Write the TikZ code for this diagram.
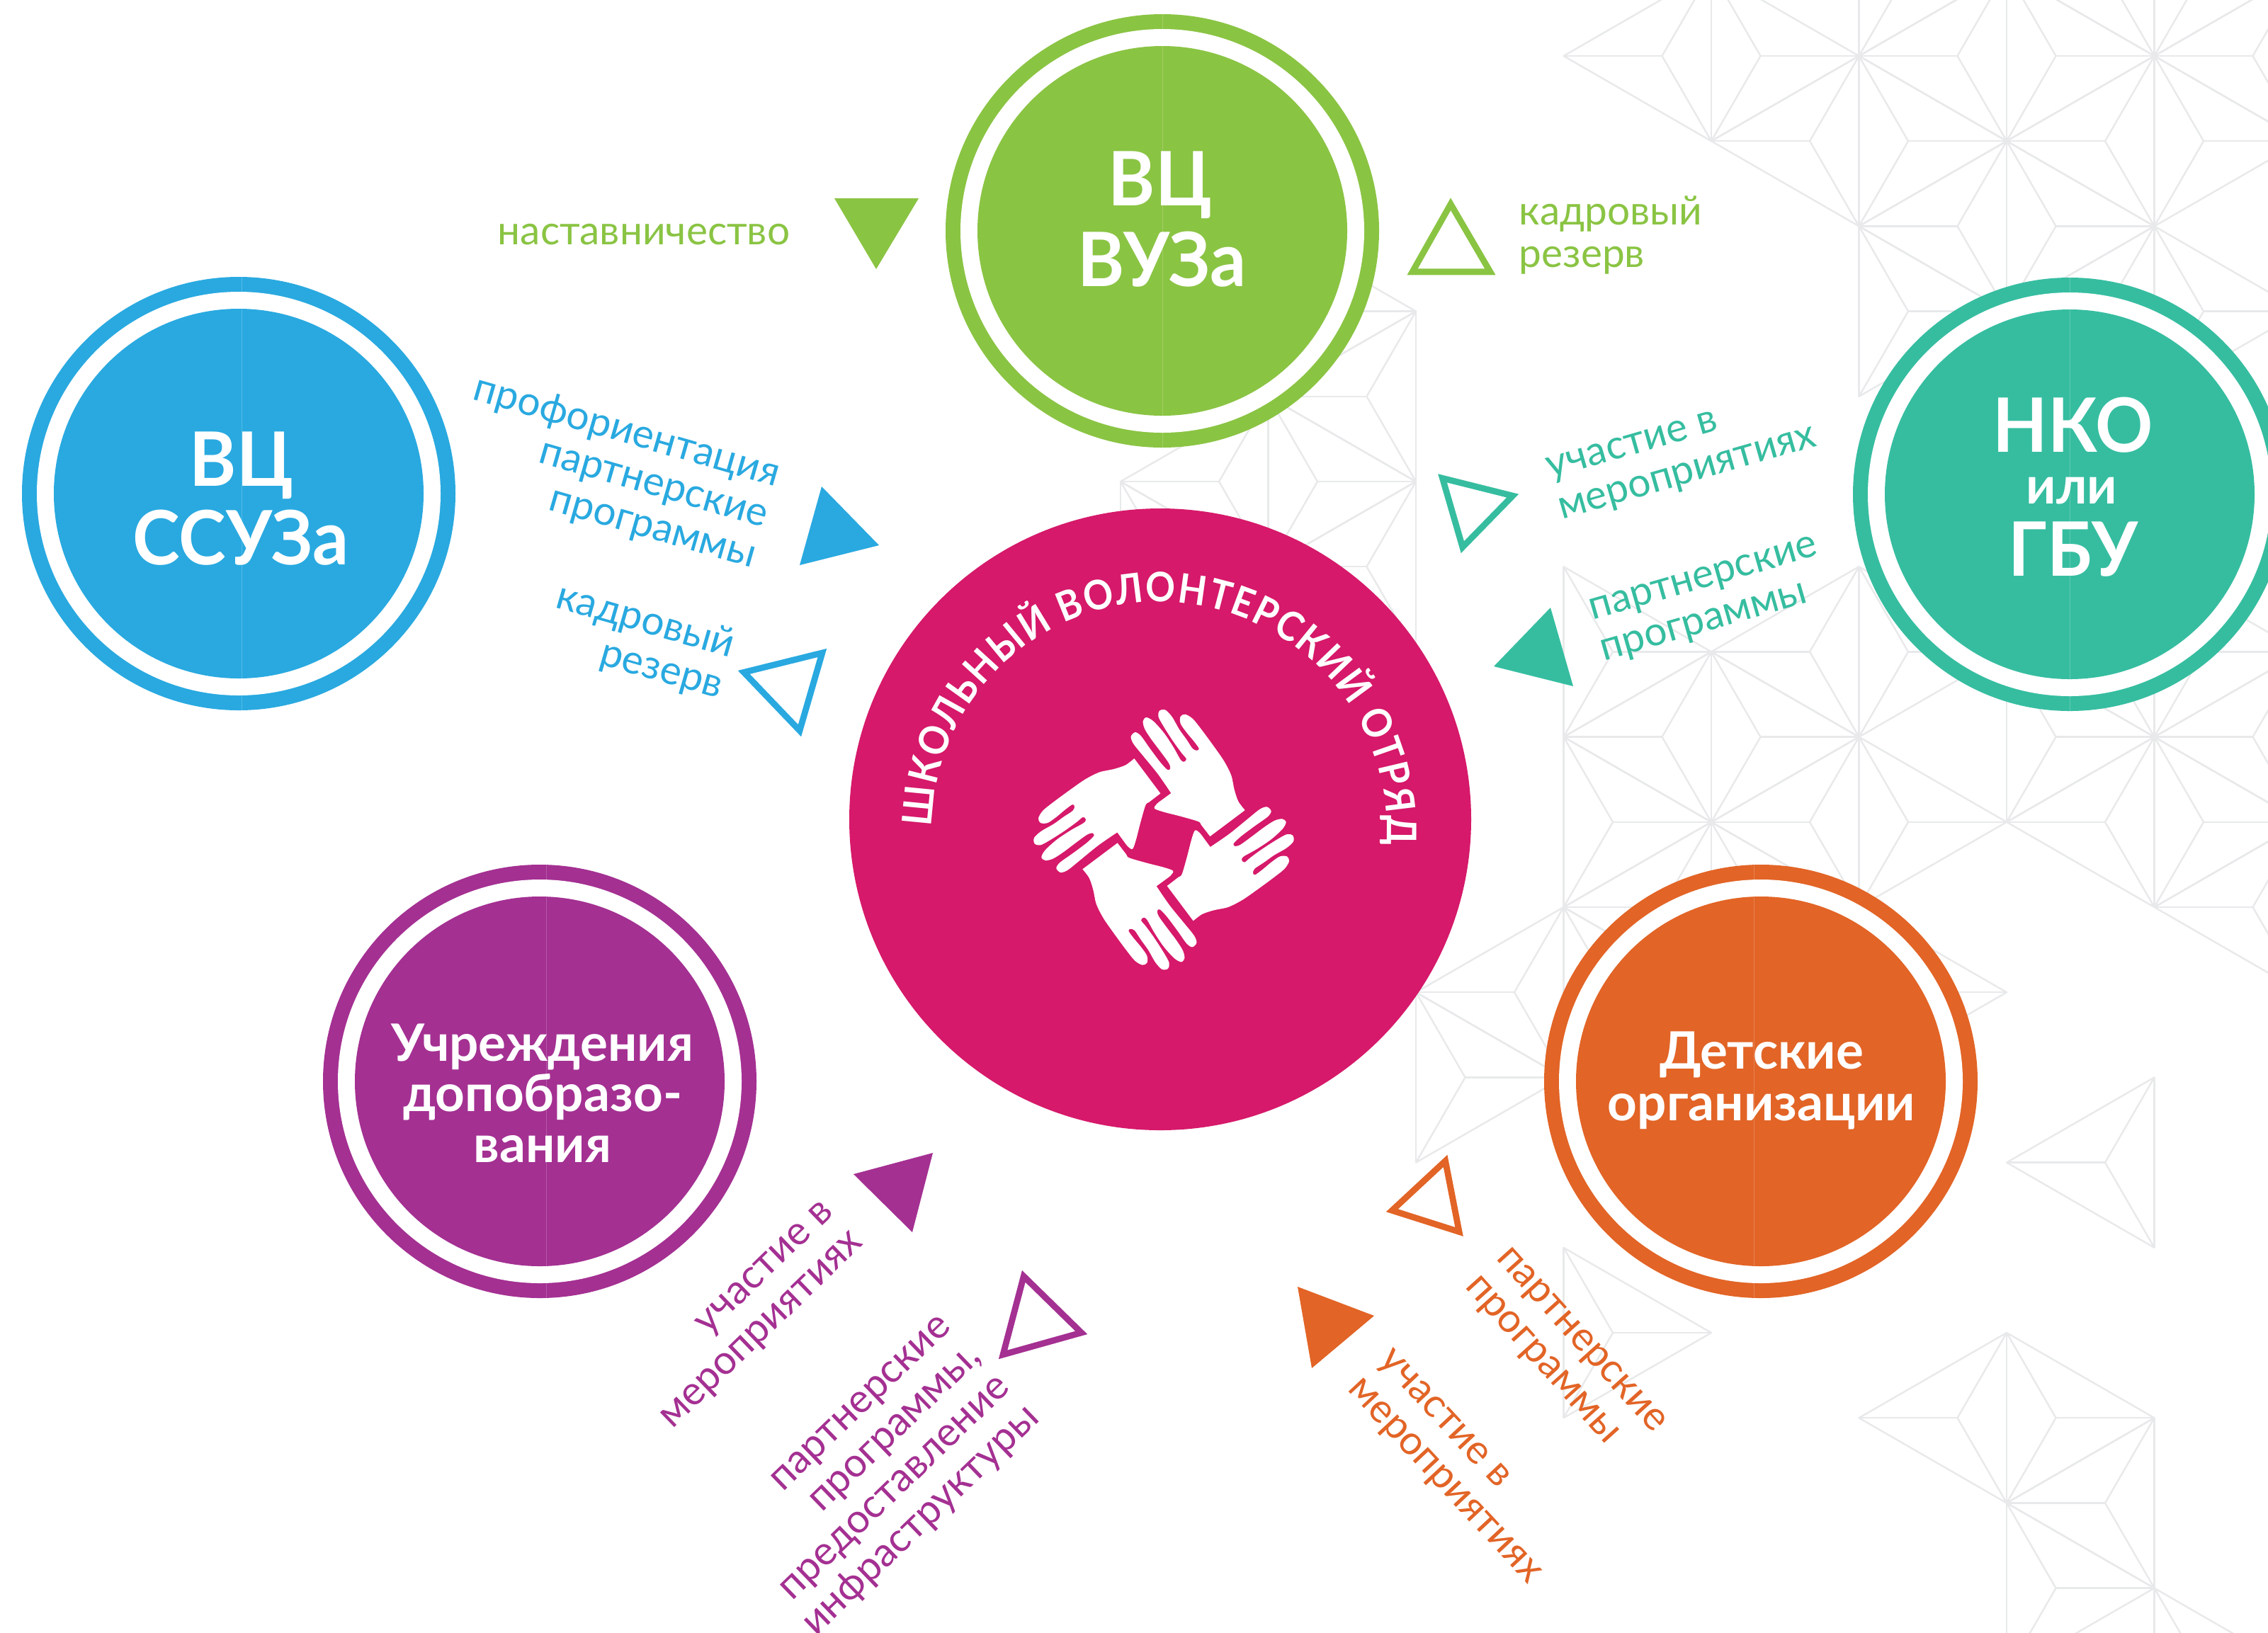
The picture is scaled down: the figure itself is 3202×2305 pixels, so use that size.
\documentclass[tikz,border=0pt]{standalone}
\usepackage{fontspec}
\setmainfont{Lato}
\usetikzlibrary{decorations.text}
\definecolor{cgreen}{HTML}{8AC443}
\definecolor{cblue}{HTML}{29A9E0}
\definecolor{cteal}{HTML}{36BDA0}
\definecolor{cpurple}{HTML}{A43092}
\definecolor{corange}{HTML}{E26426}
\definecolor{cpink}{HTML}{D6196A}
\definecolor{cpat}{HTML}{E8E9EA}
\newfontfamily\curvefont[FakeStretch=0.9]{Lato}
\newfontfamily\bigf[FakeStretch=0.95]{Lato}
\newcommand{\ringc}[4]{%
  \fill[#1] (#2,#3) circle[radius=306];
  \fill[white] (#2,#3) circle[radius=285];
  \fill[#1] (#2,#3) circle[radius=261];
  \begin{scope}
    \clip (#2,#3) circle[radius=306];
    \draw[white,opacity=.2,line width=.25pt] (#4,#3-306) -- (#4,#3+306);
  \end{scope}
}
\newcommand{\stri}[7]{\fill[#1] (#2,#3) -- (#4,#5) -- (#6,#7) -- cycle;}
\newcommand{\otri}[7]{%
  \pgfmathsetmacro{\tcx}{(#2+#4+#6)/3}\pgfmathsetmacro{\tcy}{(#3+#5+#7)/3}%
  \begin{scope}[shift={(\tcx,\tcy)},scale=.885,shift={(-\tcx,-\tcy)}]
    \draw[#1,line width=2.2pt,line join=miter] (#2,#3) -- (#4,#5) -- (#6,#7) -- cycle;
  \end{scope}}
\newcommand{\patL}{%
  \draw[patline] (0,-120.2) -- (-208.5,0) -- (0,120.2) -- (-69.5,0) -- cycle;
  \draw[patline] (-208.5,0) -- (-69.5,0);
  \draw[patline] (0,-120.2) -- (0,120.2);}
\newcommand{\patR}{%
  \draw[patline] (0,-120.2) -- (208.5,0) -- (0,120.2) -- (69.5,0) -- cycle;
  \draw[patline] (208.5,0) -- (69.5,0);
  \draw[patline] (0,-120.2) -- (0,120.2);}
\tikzset{
  patline/.style={draw=cpat,line width=.6pt,line join=round},
  smalllab/.style={font=\fontsize{14.2}{15}\selectfont,inner sep=0pt},
  biglab/.style={font=\bigf\fontsize{26.5}{30}\selectfont\bfseries,text=white,anchor=base,inner sep=0pt},
  midlab/.style={font=\fontsize{18.2}{19}\selectfont\bfseries,text=white,anchor=base,inner sep=0pt},
}
\begin{document}
\begin{tikzpicture}[x=0.25pt,y=-0.25pt]
\useasboundingbox (0,0) rectangle (3202,2305);
\clip (0,0) rectangle (3202,2305);
\fill[white] (0,0) rectangle (3202,2305);
% background lattice
\foreach \i/\j in {4/0,6/0,7/-1,5/1,7/1,6/2,7/3,1/5,5/7,7/7,4/8,5/9,7/9,3/11,4/10,6/16,
                   8/0,2/4,2/6,8/8,8/10,7/13,7/17}{
  \pgfmathsetmacro{\cx}{1582+208.5*\i}\pgfmathsetmacro{\cy}{79+120.2*\j}
  \begin{scope}[shift={(\cx,\cy)}]\patL\end{scope}}
\foreach \i/\j in {4/0,6/0,7/-1,5/1,7/1,6/2,7/3,1/5,5/7,7/7,4/8,5/9,7/9,3/11,4/10,6/16,
                   5/-1,1/3,5/3,0/6,3/7,3/9,6/8,2/12,5/11,3/15,6/18,7/19}{
  \pgfmathsetmacro{\cx}{1582+208.5*\i}\pgfmathsetmacro{\cy}{79+120.2*\j}
  \begin{scope}[shift={(\cx,\cy)}]\patR\end{scope}}
% satellite circles
\ringc{cgreen}{1641}{326}{1641}
\ringc{cblue}{337}{697}{341}
\ringc{cteal}{2922}{698}{2922}
\ringc{cpurple}{762}{1527}{771}
\ringc{corange}{2486}{1527}{2476}
% central circle
\fill[cpink] (1638,1157) circle[radius=439];
\begin{scope}[shift={(1637,1171)},x=0.25pt,y=0.25pt]
  \path[decorate,decoration={text along path,text align={fit to path},
    text={|\curvefont\bfseries\fontsize{14.4}{16}\selectfont\color{white}|ШКОЛЬНЫЙ ВОЛОНТЕРСКИЙ ОТРЯД}}]
    (179.4:321) arc[start angle=179.4,end angle=-4,radius=321];
\end{scope}
% four hands
\foreach \a in {0,90,180,270}{
\begin{scope}[shift={(1643,1185.7)},rotate=\a,x=0.08333pt,y=-0.08333pt]
\fill[white] (196,-14) -- (344,-125) --
  plot[smooth,tension=.5] coordinates {(344,-125)(316,-162)(299,-212)(286,-272)(256,-332)(211,-397)(161,-465)(123,-512)(91,-531)(71,-522)(71,-492)(96,-455)(126,-419)(149,-387)(141,-378)(123,-385)(96,-425)(66,-467)(36,-519)(8,-549)(-17,-547)(-23,-522)(1,-477)(41,-415)(76,-367)(96,-342)(86,-330)(71,-339)(41,-392)(1,-452)(-44,-502)(-74,-518)(-88,-502)(-81,-470)(-54,-427)(-9,-367)(21,-325)(28,-302)(16,-296)(-14,-327)(-59,-387)(-97,-440)(-121,-455)(-139,-437)(-129,-407)(-89,-357)(-24,-277)(31,-197)}
  -- plot[smooth,tension=.5] coordinates {(31,-197)(1,-175)(-29,-152)(-39,-132)(1,-117)(71,-99)(146,-77)(159,-62)(196,-14)}
  -- cycle;
\end{scope}}
% triangles
\stri{cgreen}{1178}{280}{1297}{280}{1237}{380}
\otri{cgreen}{2048}{280}{1987}{388}{2111}{388}
\otri{cteal}{2031}{670}{2143}{698}{2063}{780}
\stri{cteal}{2189}{858}{2221}{969}{2109}{941}
\stri{cblue}{1160}{687}{1241}{770}{1129}{798}
\otri{cblue}{1167}{916}{1131}{1040}{1042}{947}
\stri{cpurple}{1317}{1628}{1288}{1740}{1205}{1658}
\otri{cpurple}{1443}{1794}{1535}{1884}{1410}{1919}
\otri{corange}{2043}{1632}{2065}{1745}{1958}{1711}
\stri{corange}{1832}{1817}{1940}{1858}{1852}{1932}
% circle titles
\node[biglab] (g1) at (1638,290) {ВЦ};
\node[biglab] (g2) at (1640,404) {ВУЗа};
\node[biglab] (b1) at (341,686) {ВЦ};
\node[biglab] (b2) at (340,797) {ССУЗа};
\node[biglab] (t1) at (2927,638) {НКО};
\node[midlab] (t2) at (2925,711) {или};
\node[biglab] (t3) at (2927,813) {ГБУ};
\node[midlab] (p1) at (766,1498) {Учреждения};
\node[midlab] (p2) at (766,1569) {допобразо-};
\node[midlab] (p3) at (766,1641) {вания};
\node[midlab] (o1) at (2487,1509) {Детские};
\node[midlab] (o2) at (2487,1582) {организации};
% side labels
\node[smalllab,text=cgreen] (l1) at (909,331) {наставничество};
\node[smalllab,text=cgreen,anchor=west,align=left] (l2) at (2144,332) {кадровый\\резерв};
\node[smalllab,text=cteal,align=left,rotate=16,anchor=center] (l3) at (2375,643) {участие в\\мероприятиях};
\node[smalllab,text=cteal,align=left,rotate=16,anchor=center] (l4) at (2414,849) {партнерские\\программы};
\node[smalllab,text=cblue,align=right,rotate=-16] (l5) at (868,668) {профориентация\\партнерские\\программы};
\node[smalllab,text=cblue,align=right,rotate=-16] (l6) at (903,907) {кадровый\\резерв};
\node[smalllab,text=cpurple,align=right,rotate=44] (l7) at (1057,1859) {участие в\\мероприятиях};
\node[smalllab,text=cpurple,align=right,rotate=44,anchor=east] (l8) at (1401,1933) {партнерские\\программы,\\предоставление\\инфраструктуры};
\node[smalllab,text=corange,align=left,rotate=-48,anchor=west] (l9) at (2096,1790) {партнерские\\программы};
\node[smalllab,text=corange,align=left,rotate=-47,anchor=west] (l10) at (1930,1935) {участие в\\мероприятиях};
\end{tikzpicture}
\end{document}
